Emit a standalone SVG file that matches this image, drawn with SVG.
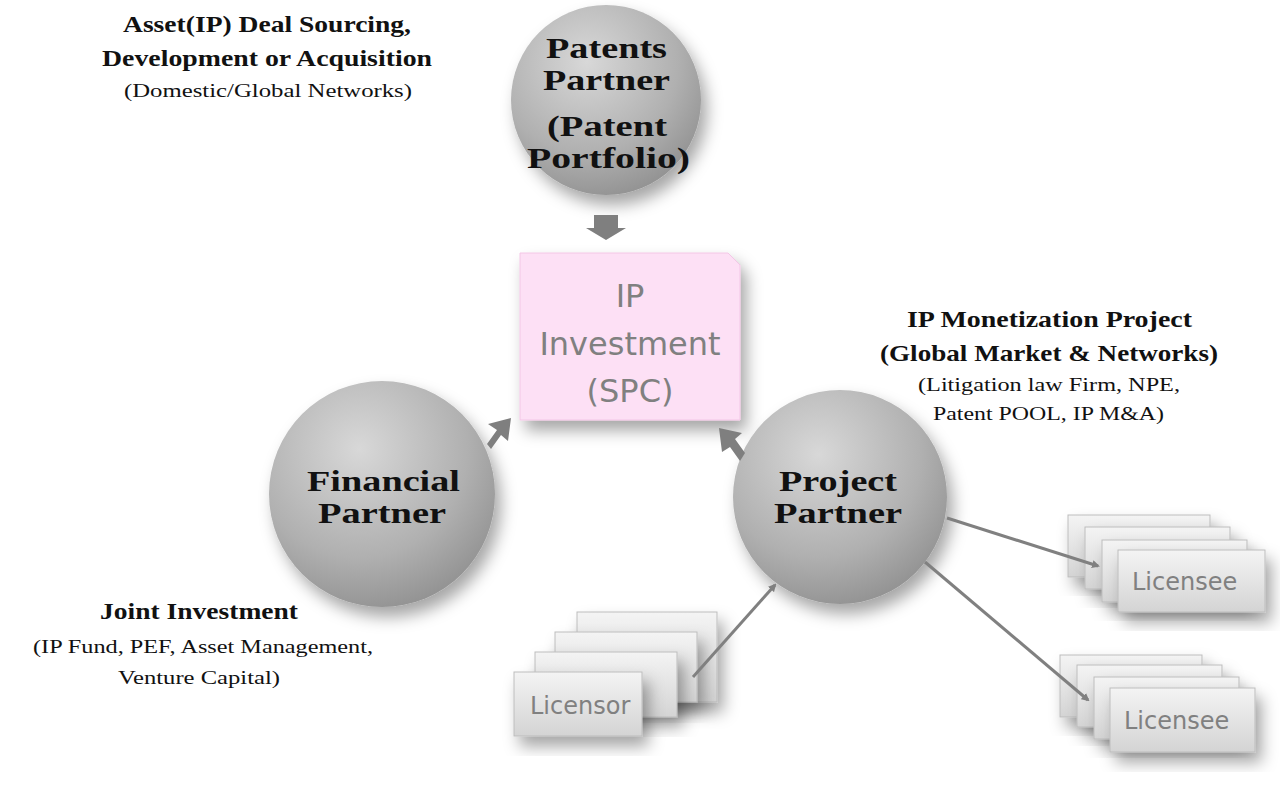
<svg xmlns="http://www.w3.org/2000/svg" width="1280" height="796" viewBox="0 0 1280 796">
<defs>
<radialGradient id="ball" cx="0.4" cy="0.3" r="0.8">
<stop offset="0" stop-color="#d8d8d8"/><stop offset="0.6" stop-color="#b0b0b0"/><stop offset="1" stop-color="#8a8a8a"/>
</radialGradient>
<linearGradient id="card" x1="0" y1="0" x2="0" y2="1">
<stop offset="0" stop-color="#f4f4f4"/><stop offset="1" stop-color="#d4d4d4"/>
</linearGradient>
<filter id="sh" x="-30%" y="-30%" width="160%" height="160%"><feDropShadow dx="6" dy="10" stdDeviation="8" flood-color="#000" flood-opacity="0.35"/></filter>
<marker id="ah" markerWidth="8" markerHeight="8" refX="6" refY="4" orient="auto" markerUnits="userSpaceOnUse" viewBox="0 0 8 8"><path d="M0,0 L8,4 L0,8 z" fill="#808080"/></marker>
<style>
.b{font-family:"Liberation Serif",serif;font-weight:bold;fill:#111}
.n{font-family:"Liberation Serif",serif;fill:#111}
.c{font-family:"DejaVu Sans",sans-serif;fill:#808080}
.card{fill:url(#card);stroke:#bdbdbd;stroke-width:1;filter:url(#sh)}
.ln{stroke:#808080;stroke-width:3;fill:none;marker-end:url(#ah)}
.blk{fill:#7f7f7f}
</style>
</defs>
<rect width="1280" height="796" fill="#fff"/>
<g id="labels">
<text class="b" font-size="23" x="123" y="32" textLength="288" lengthAdjust="spacingAndGlyphs">Asset(IP) Deal Sourcing,</text>
<text class="b" font-size="23" x="102" y="66" textLength="330" lengthAdjust="spacingAndGlyphs">Development or Acquisition</text>
<text class="n" font-size="19" x="124" y="97" textLength="288" lengthAdjust="spacingAndGlyphs">(Domestic/Global  Networks)</text>
<text class="b" font-size="23" x="907" y="327" textLength="285" lengthAdjust="spacingAndGlyphs">IP Monetization Project</text>
<text class="b" font-size="23" x="880" y="361" textLength="338" lengthAdjust="spacingAndGlyphs">(Global Market &amp; Networks)</text>
<text class="n" font-size="19" x="918" y="391" textLength="262" lengthAdjust="spacingAndGlyphs">(Litigation law Firm, NPE,</text>
<text class="n" font-size="19" x="933" y="420" textLength="231" lengthAdjust="spacingAndGlyphs">Patent POOL, IP M&amp;A)</text>
<text class="b" font-size="23" x="100" y="619" textLength="198" lengthAdjust="spacingAndGlyphs">Joint Investment</text>
<text class="n" font-size="19" x="33" y="653" textLength="340" lengthAdjust="spacingAndGlyphs">(IP Fund, PEF, Asset Management,</text>
<text class="n" font-size="19" x="118" y="684" textLength="162" lengthAdjust="spacingAndGlyphs">Venture Capital)</text>
</g>
<g id="patents">
<circle cx="606" cy="100" r="95" fill="url(#ball)" filter="url(#sh)"/>
<text class="b" font-size="29" x="546" y="58" textLength="121" lengthAdjust="spacingAndGlyphs">Patents</text>
<text class="b" font-size="29" x="543" y="90" textLength="127" lengthAdjust="spacingAndGlyphs">Partner</text>
<text class="b" font-size="29" x="547" y="136" textLength="120" lengthAdjust="spacingAndGlyphs">(Patent</text>
<text class="b" font-size="29" x="527" y="168" textLength="163" lengthAdjust="spacingAndGlyphs">Portfolio)</text>
</g>
<g id="spc">
<path d="M520,253 H728 L740,265 V420 H520 Z" fill="#fde0f5" stroke="#f3c6e6" filter="url(#sh)"/>
<text class="c" font-size="32" text-anchor="middle" x="630" y="307" fill="#8a8a8a">IP</text>
<text class="c" font-size="32" text-anchor="middle" x="630" y="355" fill="#8a8a8a">Investment</text>
<text class="c" font-size="32" text-anchor="middle" x="630" y="402" fill="#8a8a8a">(SPC)</text>
</g>
<g id="financial">
<circle cx="382" cy="494" r="113" fill="url(#ball)" filter="url(#sh)"/>
<text class="b" font-size="29" x="307" y="491" textLength="153" lengthAdjust="spacingAndGlyphs">Financial</text>
<text class="b" font-size="29" x="318" y="523" textLength="128" lengthAdjust="spacingAndGlyphs">Partner</text>
</g>
<g id="project">
<circle cx="840" cy="497" r="107" fill="url(#ball)" filter="url(#sh)"/>
<text class="b" font-size="29" x="779" y="491" textLength="118" lengthAdjust="spacingAndGlyphs">Project</text>
<text class="b" font-size="29" x="774" y="523" textLength="128" lengthAdjust="spacingAndGlyphs">Partner</text>
</g>
<g id="licensor">
<rect class="card" x="577" y="612" width="140" height="90"/>
<rect class="card" x="555" y="632" width="142" height="70"/>
<rect class="card" x="535" y="652" width="142" height="65"/>
<rect class="card" x="514" y="672" width="128" height="64"/>
<text class="c" font-size="24" x="530" y="714">Licensor</text>
</g>
<g id="licensee1">
<rect class="card" x="1068" y="515" width="142" height="62"/>
<rect class="card" x="1085" y="527" width="145" height="62"/>
<rect class="card" x="1102" y="540" width="145" height="62"/>
<rect class="card" x="1118" y="550" width="147" height="62"/>
<text class="c" font-size="24" x="1132" y="590">Licensee</text>
</g>
<g id="licensee2">
<rect class="card" x="1060" y="655" width="142" height="62"/>
<rect class="card" x="1077" y="665" width="145" height="62"/>
<rect class="card" x="1094" y="677" width="145" height="62"/>
<rect class="card" x="1110" y="688" width="145" height="64"/>
<text class="c" font-size="24" x="1124" y="729">Licensee</text>
</g>
<g id="connectors">
<path class="blk" d="M594,215 H618 V228 H626 L606,240 L586,228 H594 Z"/>
<path class="blk" d="M487,444 L497,430 L488,424 L511,418 L508,441 L501,435 L491,449 Z"/>
<path class="blk" d="M740,461 L730,447 L722,452 L719,428 L742,433 L735,439 L745,453 Z"/>
<line class="ln" x1="693" y1="677" x2="775" y2="585"/>
<line class="ln" x1="947" y1="518" x2="1098" y2="566"/>
<line class="ln" x1="925" y1="562" x2="1088" y2="700"/>
</g>
</svg>
